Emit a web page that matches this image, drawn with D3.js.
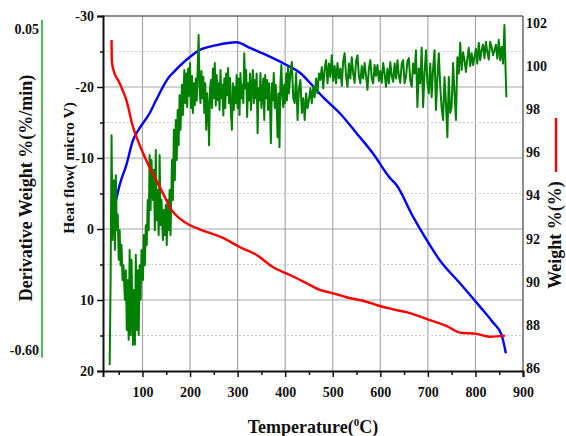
<!DOCTYPE html>
<html>
<head>
<meta charset="utf-8">
<script src="https://cdn.jsdelivr.net/npm/d3@7/dist/d3.min.js"></script>
<style>
  html, body { margin: 0; padding: 0; background: #fff; }
  svg { display: block; }
  text { font-family: "Liberation Serif", "Times New Roman", serif; font-weight: bold; fill: #111; }
</style>
</head>
<body>
<svg id="chart" width="566" height="436"></svg>
<script>
// Thermal analysis: heat flow (DTA), weight (TGA) and derivative weight (DTG) vs temperature

// Heat flow curve (micro V), left axis
const heatTemp = [37, 46, 52, 66, 80, 94, 115, 129, 157, 164, 192, 220, 256, 298, 326, 361, 403, 431, 452, 479, 515, 550, 584, 620, 634, 669, 697, 725, 767, 809, 836, 855, 864];
const heatFlow = [-1.7, -4.5, -6.2, -9.0, -12.5, -14.2, -16.3, -18.2, -21.5, -22.0, -23.8, -25.2, -25.9, -26.3, -25.5, -24.5, -23.1, -22.0, -20.6, -18.6, -16.3, -13.5, -10.7, -7.2, -6.2, -1.7, 1.5, 4.4, 7.6, 10.9, 13.1, 14.9, 17.5];

// Weight curve (%), right axis
const weightTemp = [35, 35.5, 38, 52, 66, 80, 94, 115, 136, 150, 161, 178, 199, 220, 269, 304, 340, 374, 410, 445, 473, 501, 529, 571, 592, 627, 669, 704, 739, 767, 802, 830, 862];
const weightPct = [101.21, 100.28, 99.90, 99.20, 98.43, 97.18, 96.34, 95.30, 94.41, 93.79, 93.33, 92.94, 92.63, 92.43, 92.03, 91.61, 91.24, 90.68, 90.31, 89.93, 89.62, 89.46, 89.28, 89.07, 88.92, 88.72, 88.50, 88.22, 87.95, 87.64, 87.58, 87.45, 87.50];

// Derivative weight curve (%/min), far-left axis
const derivTemp = [
  31, 33, 35, 37, 40, 42, 44, 46, 48, 50, 52, 54, 56, 58, 60, 63, 65, 67, 69, 71,
  73, 75, 77, 80, 82, 84, 86, 88, 90, 92, 94, 96, 98, 101, 103, 105, 107, 109, 111, 113,
  115, 117, 119, 122, 124, 126, 128, 130, 132, 134, 136, 138, 140, 143, 145, 147, 149, 151, 153, 155,
  157, 159, 162, 164, 166, 168, 170, 172, 174, 176, 178, 180, 183, 185,
  188, 190, 192, 194, 196, 198, 200, 202, 204, 206, 208, 210, 212, 214, 216, 218, 220, 222, 224, 226,
  228, 230, 232, 234, 236, 238, 240, 242, 244, 246, 248, 250, 252, 254, 256, 258, 260, 262, 264, 266,
  268, 270, 272, 274, 276, 278, 280, 282, 284, 286, 288, 290, 292, 294, 296, 298, 300, 302, 304, 306,
  308, 310, 312, 314, 316, 318, 320, 322, 324, 326, 328, 330, 332, 334, 336, 338, 340, 342, 344, 346,
  348, 350, 352, 354, 356, 358, 360, 362, 364, 366, 368, 370, 372, 374, 376, 378, 380, 382, 384, 386,
  388, 390, 392, 394, 396, 398, 400, 402, 404, 406,
  408, 411, 414, 417, 420, 423, 426, 429, 432, 435, 438, 441, 444, 447, 450, 453, 456, 459, 462, 465,
  468, 471, 474, 477, 480, 483, 486, 489, 492, 495, 498, 501, 504, 507, 510, 513, 516, 519, 522, 525,
  528, 531, 534, 537, 540, 543, 546, 549, 552, 555, 558, 561, 564, 567, 570, 573, 576, 579, 582, 585,
  588, 591, 594, 597, 600, 603, 606, 609, 612, 615, 618, 621, 624, 627, 630, 633, 636, 639,
  642, 645, 648, 651, 654, 657, 660, 663, 666, 669, 672, 675, 678, 681, 684, 687, 690, 693, 696, 699,
  702, 705, 708, 711, 714, 717, 720, 723, 726, 729, 732, 735, 738, 741, 744, 747, 750, 753, 756, 759,
  762, 765, 768, 771, 774, 777, 780, 783, 786, 789, 792, 795, 798, 801, 804, 807, 810, 813, 816, 819,
  822, 825, 828, 831, 834, 837, 840, 843, 846, 849, 852, 855, 858, 861, 863, 865
];
const derivValue = [
  -0.630, -0.458, -0.165, -0.377, -0.256, -0.397, -0.246, -0.357, -0.326, -0.417, -0.357, -0.428, -0.387, -0.458, -0.428, -0.498, -0.438, -0.559, -0.458, -0.579,
  -0.397, -0.569, -0.417, -0.589, -0.478, -0.589, -0.407, -0.559, -0.438, -0.569, -0.428, -0.498, -0.397, -0.458, -0.367, -0.428, -0.347, -0.387, -0.296, -0.357,
  -0.205, -0.316, -0.215, -0.296, -0.235, -0.357, -0.195, -0.337, -0.276, -0.367, -0.205, -0.347, -0.296, -0.377, -0.316, -0.367, -0.306, -0.387, -0.296, -0.357,
  -0.276, -0.367, -0.215, -0.296, -0.154, -0.256, -0.134, -0.215, -0.114, -0.185, -0.084, -0.154, -0.063, -0.124,
  -0.033, -0.100, -0.040, -0.108, -0.030, -0.085, -0.019, -0.110, -0.045, -0.120, -0.060, -0.104, -0.050, -0.095, -0.033, 0.038, -0.070, -0.100, -0.035, -0.090,
  -0.047, -0.120, -0.060, -0.154, -0.080, -0.110, -0.185, -0.070, -0.053, -0.110, -0.030, -0.090, -0.019, -0.105, -0.043, -0.094, -0.060, -0.114, -0.033, -0.090,
  -0.063, -0.125, -0.050, -0.110, -0.040, -0.084, -0.029, -0.100, -0.049, -0.120, -0.154, -0.060, -0.114, -0.067, -0.100, -0.043, -0.110, -0.050, -0.124, -0.039,
  -0.090, -0.063, -0.100, 0.001, -0.070, -0.033, -0.128, -0.060, -0.094, -0.040, -0.114, -0.067, -0.033, -0.100, -0.053, -0.090, -0.040, -0.161, -0.070, -0.094,
  -0.039, -0.110, -0.084, -0.050, -0.134, -0.043, -0.090, -0.053, -0.114, -0.060, -0.100, -0.181, -0.060, -0.094, -0.039, -0.110, -0.063, -0.100, -0.169, -0.080,
  -0.189, -0.060, -0.023, -0.084, -0.108, -0.063, -0.100, -0.040, -0.094, -0.027,
  -0.080, -0.040, -0.017, -0.090, -0.100, -0.039, -0.134, -0.070, -0.053, -0.120, -0.090, -0.134, -0.080, -0.110, -0.094, -0.070, -0.100, -0.067, -0.088, -0.050,
  -0.080, -0.040, -0.053, -0.027, -0.070, -0.030, -0.013, -0.060, -0.020, -0.047, -0.003, -0.055, -0.025, -0.060, -0.019, -0.050, -0.030, -0.065, -0.015, 0.001,
  -0.045, -0.067, -0.020, -0.050, -0.007, -0.040, -0.059, -0.015, -0.003, -0.045, -0.060, -0.025, -0.050, -0.019, -0.045, -0.073, -0.030, -0.013, -0.050, -0.060,
  -0.023, -0.045, -0.023, -0.055, -0.035, -0.059, -0.019, -0.040, -0.067, -0.030, -0.060, -0.017, -0.045, -0.057, -0.020, -0.050, -0.013, -0.045,
  -0.059, -0.020, -0.013, -0.060, -0.047, -0.015, -0.009, -0.055, -0.067, -0.020, -0.040, 0.007, -0.108, -0.030, -0.060, 0.012, -0.108, -0.040, 0.007, -0.059,
  -0.080, -0.020, -0.088, -0.030, 0.007, -0.114, -0.050, 0.001, -0.067, -0.110, -0.134, -0.047, -0.100, -0.169, -0.047, -0.120, -0.108, -0.019, -0.080, -0.134,
  -0.007, -0.040, 0.022, -0.033, 0.003, -0.013, -0.037, -0.010, 0.012, -0.025, 0.001, -0.023, -0.007, 0.010, -0.020, 0.022, -0.013, 0.007, 0.018, -0.009,
  0.024, 0.003, -0.012, 0.024, 0.014, -0.003, 0.007, 0.018, -0.010, 0.028, -0.013, 0.014, -0.020, 0.058, -0.019, -0.088
];

// Axis ticks and labels
const xTicks = [100, 200, 300, 400, 500, 600, 700, 800, 900];
const xMinorTicks = [50, 150, 250, 350, 450, 550, 650, 750, 850];
const heatTicks = [-30, -20, -10, 0, 10, 20];
const heatMinorTicks = [-25, -15, -5, 5, 15];
const weightTicks = [86, 88, 90, 92, 94, 96, 98, 100, 102];
const derivTickLabels = ["0.05", "-0.60"];
const derivTickValues = [0.05, -0.60];

const svg = d3.select("#chart");
const plot = { left: 103, right: 523, top: 16, bottom: 371 };

const x = d3.scaleLinear().domain([17, 900]).range([plot.left, plot.right]);
const yHeat = d3.scaleLinear().domain([-30, 20]).range([plot.top, plot.bottom]);
const yWeight = d3.scaleLinear().domain([85.86, 102.32]).range([plot.bottom, plot.top]);
const yDeriv = d3.scaleLinear().domain([-0.642, 0.0763]).range([plot.bottom, plot.top]);
const plainNum = d => String(d);

// Grid
const grid = svg.append("g");
grid.selectAll(".vgrid").data(xTicks.filter(t => t < 900)).enter().append("line")
  .attr("x1", d => x(d)).attr("x2", d => x(d))
  .attr("y1", plot.top).attr("y2", plot.bottom)
  .attr("stroke", "#a8a8a8").attr("stroke-width", 1.2);
grid.selectAll(".hgrid").data(heatTicks.filter(t => t > -30 && t < 20)).enter().append("line")
  .attr("x1", plot.left).attr("x2", plot.right)
  .attr("y1", d => yHeat(d)).attr("y2", d => yHeat(d))
  .attr("stroke", "#a8a8a8").attr("stroke-width", 1.2);
grid.selectAll(".hminor").data(heatMinorTicks).enter().append("line")
  .attr("x1", plot.left).attr("x2", plot.right)
  .attr("y1", d => yHeat(d)).attr("y2", d => yHeat(d))
  .attr("stroke", "#cfcfcf").attr("stroke-width", 1).attr("stroke-dasharray", "2,2");

// Frame (top and right)
svg.append("line").attr("x1", plot.left).attr("x2", plot.right).attr("y1", plot.top).attr("y2", plot.top)
  .attr("stroke", "#666").attr("stroke-width", 1.5);
svg.append("line").attr("x1", plot.right).attr("x2", plot.right).attr("y1", plot.top).attr("y2", plot.bottom)
  .attr("stroke", "#666").attr("stroke-width", 1.5);

// Curves
const heatLine = d3.line().curve(d3.curveMonotoneX).x((d, i) => x(heatTemp[i])).y(d => yHeat(d));
const weightLine = d3.line().curve(d3.curveMonotoneX).x((d, i) => x(weightTemp[i])).y(d => yWeight(d));
const derivLine = d3.line().x((d, i) => x(derivTemp[i])).y(d => yDeriv(d));

svg.append("path").datum(heatFlow).attr("d", heatLine)
  .attr("fill", "none").attr("stroke", "#0000ff").attr("stroke-width", 2.4).attr("stroke-linejoin", "round");
svg.append("path").datum(derivValue).attr("d", derivLine)
  .attr("fill", "none").attr("stroke", "#008000").attr("stroke-width", 2).attr("stroke-linejoin", "round");
svg.append("path").datum(weightPct).attr("d", weightLine)
  .attr("fill", "none").attr("stroke", "#ff0000").attr("stroke-width", 2.4).attr("stroke-linejoin", "round");

// Axis titles (drawn before tick labels so the labels stay on top)
svg.append("text").attr("transform", "translate(32,188) rotate(-90)")
  .attr("text-anchor", "middle").attr("font-size", 18)
  .text("Derivative Weight %(%/min)");
svg.append("text").attr("transform", "translate(73.5,168) rotate(-90)")
  .attr("text-anchor", "middle").attr("font-size", 15.5)
  .text("Heat flow( micro V)");
svg.append("text").attr("transform", "translate(561,235) rotate(-90)")
  .attr("text-anchor", "middle").attr("font-size", 18)
  .text("Weight %(%)");
svg.append("line").attr("x1", 556).attr("x2", 556).attr("y1", 118).attr("y2", 172)
  .attr("stroke", "#ff0000").attr("stroke-width", 2.4);

const xTitle = svg.append("text").attr("x", 313).attr("y", 433)
  .attr("text-anchor", "middle").attr("font-size", 18);
xTitle.append("tspan").text("Temperature(");
xTitle.append("tspan").attr("font-size", 11).attr("dy", -7).text("0");
xTitle.append("tspan").attr("dy", 7).text("C)");

// Bottom axis
const xAxis = svg.append("g").attr("transform", `translate(0,${plot.bottom})`)
  .call(d3.axisBottom(x).tickValues(xTicks).tickSize(6).tickPadding(10).tickFormat(plainNum));
svg.append("g").attr("transform", `translate(0,${plot.bottom})`)
  .call(d3.axisBottom(x).tickValues(xMinorTicks).tickSize(4).tickFormat(""))
  .call(g => g.select(".domain").remove());

// Left axis (heat flow)
const yAxis = svg.append("g").attr("transform", `translate(${plot.left},0)`)
  .call(d3.axisLeft(yHeat).tickValues(heatTicks).tickSize(6).tickPadding(3).tickFormat(plainNum));
svg.append("g").attr("transform", `translate(${plot.left},0)`)
  .call(d3.axisLeft(yHeat).tickValues(heatMinorTicks).tickSize(3).tickFormat(""))
  .call(g => g.select(".domain").remove());

// Right axis (weight), labels only
const wAxis = svg.append("g").attr("transform", `translate(${plot.right},0)`)
  .call(d3.axisRight(yWeight).tickValues(weightTicks).tickSize(0).tickPadding(3).tickFormat(plainNum));
wAxis.select(".domain").remove();

[xAxis, yAxis, wAxis].forEach(g => {
  g.selectAll("text").attr("font-family", "Liberation Serif, serif").attr("font-weight", "bold")
    .attr("font-size", 14).attr("fill", "#111");
});
xAxis.select(".domain").attr("stroke", "#111").attr("stroke-width", 2);
yAxis.select(".domain").attr("stroke", "#111").attr("stroke-width", 2);
svg.selectAll(".tick line").attr("stroke", "#111").attr("stroke-width", 1.5);

// Derivative weight axis (green line with end labels)
svg.append("line").attr("x1", 42).attr("x2", 42)
  .attr("y1", yDeriv(0.068)).attr("y2", yDeriv(-0.615))
  .attr("stroke", "#5cb85c").attr("stroke-width", 2.2);
svg.selectAll(".dlabel").data(derivTickValues).enter().append("text")
  .attr("x", 39).attr("y", d => yDeriv(d)).attr("dy", "0.35em")
  .attr("text-anchor", "end").attr("font-size", 14)
  .text((d, i) => derivTickLabels[i]);
</script>
</body>
</html>
